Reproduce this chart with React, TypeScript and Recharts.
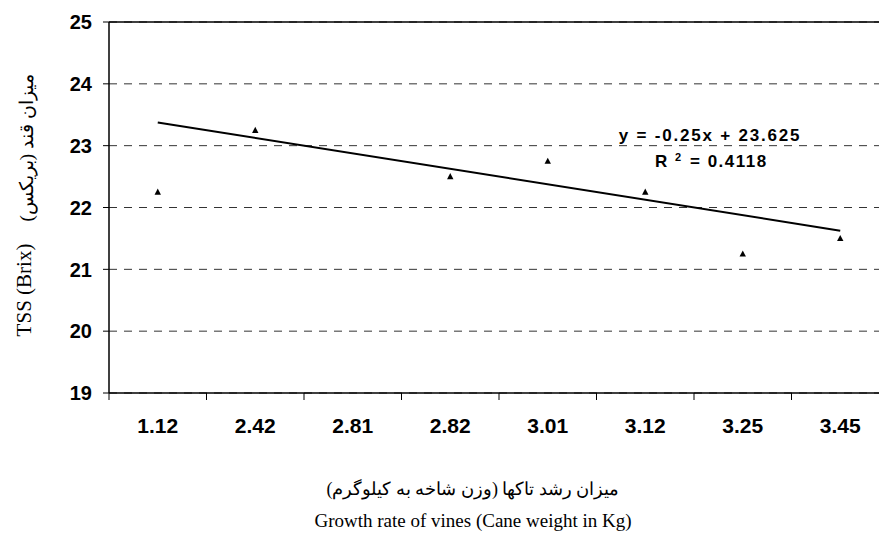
import React from "react";
import {
  ComposedChart,
  Line,
  XAxis,
  YAxis,
  CartesianGrid,
  ReferenceLine,
} from "recharts";

// cane weight categories (kg) and TSS readings (Brix)
const caneWeights = ["1.12", "2.42", "2.81", "2.82", "3.01", "3.12", "3.25", "3.45"];
const tssValues = [22.25, 23.25, null, 22.5, 22.75, 22.25, 21.25, 21.5];
// linear trend line end points (y = -0.25x + 23.625)
const trendValues = [23.375, null, null, null, null, null, null, 21.625];
const yTicks = [19, 20, 21, 22, 23, 24, 25];

const chartData = caneWeights.map((w, i) => ({
  name: w,
  tss: tssValues[i],
  trend: trendValues[i],
}));

const SANS = "'Liberation Sans', Arial, sans-serif";
const SERIF = "'Liberation Serif', 'Times New Roman', serif";

const TriangleDot = (props: any) => {
  const { cx, cy, index } = props;
  if (cx == null || cy == null || isNaN(cy)) return <g key={`d-${index}`} />;
  return (
    <polygon
      key={`d-${index}`}
      points={`${cx},${cy - 3.5} ${cx - 3.2},${cy + 2.7} ${cx + 3.2},${cy + 2.7}`}
      fill="#000"
    />
  );
};

// category ticks sit between bands, like the original spreadsheet chart
const XTick = (props: any) => {
  const { x, y, payload, width, visibleTicksCount } = props;
  const off =
    payload && payload.offset
      ? payload.offset
      : width / ((visibleTicksCount || 8) * 2);
  return (
    <g>
      <line x1={x - off} x2={x - off} y1={y - 25} y2={y - 18} stroke="#000" strokeWidth={1} />
      <text
        x={x}
        y={y}
        dy="0.71em"
        textAnchor="middle"
        fontFamily={SANS}
        fontWeight="bold"
        fontSize={21}
        fill="#000"
      >
        {payload.value}
      </text>
    </g>
  );
};

const YTick = (props: any) => {
  const { x, y, payload } = props;
  return (
    <text
      x={x}
      y={y}
      dy="0.36em"
      textAnchor="end"
      fontFamily={SANS}
      fontWeight="bold"
      fontSize={20}
      fill="#000"
    >
      {payload.value}
    </text>
  );
};

export default function App() {
  return (
    <div
      style={{
        position: "absolute",
        left: 0,
        top: 0,
        width: 879,
        height: 541,
        overflow: "hidden",
        background: "#fff",
      }}
    >
      <ComposedChart
        width={900}
        height={541}
        data={chartData}
        margin={{ top: 22, right: 11, bottom: 0, left: 0 }}
      >
        <CartesianGrid vertical={false} stroke="#333" strokeDasharray="8 7" />
        <XAxis
          dataKey="name"
          scale="band"
          height={148}
          tickSize={7}
          tickMargin={18}
          tickLine={false}
          axisLine={{ stroke: "#000", strokeWidth: 1.5 }}
          tick={<XTick />}
          interval={0}
        />
        <YAxis
          width={109}
          domain={[19, 25]}
          ticks={yTicks}
          tickSize={6}
          tickMargin={11}
          axisLine={{ stroke: "#000", strokeWidth: 1.5 }}
          tickLine={{ stroke: "#000" }}
          tick={<YTick />}
        />
        <ReferenceLine y={25} stroke="#000" strokeWidth={1.5} />
        <Line
          dataKey="trend"
          stroke="#000"
          strokeWidth={2}
          dot={false}
          activeDot={false}
          connectNulls
          isAnimationActive={false}
        />
        <Line
          dataKey="tss"
          stroke="none"
          dot={<TriangleDot />}
          activeDot={false}
          isAnimationActive={false}
        />
      </ComposedChart>

      <svg
        width={879}
        height={541}
        style={{ position: "absolute", left: 0, top: 0, pointerEvents: "none" }}
      >
        {/* trend line equation */}
        <text
          x={710}
          y={141}
          textAnchor="middle"
          fontFamily={SANS}
          fontWeight="bold"
          fontSize={17}
          letterSpacing={1.8}
          fill="#000"
        >
          y = -0.25x + 23.625
        </text>
        <text x={655} y={167} fontFamily={SANS} fontWeight="bold" fontSize={17} fill="#000">
          R
        </text>
        <text x={675} y={161} fontFamily={SANS} fontWeight="bold" fontSize={11} fill="#000">
          2
        </text>
        <text x={690} y={167} fontFamily={SANS} fontWeight="bold" fontSize={17} letterSpacing={1.5} fill="#000">
          = 0.4118
        </text>

        {/* y axis title */}
        <text
          transform="translate(31,290) rotate(-90)"
          textAnchor="middle"
          fontFamily={SERIF}
          fontSize={21}
          fill="#000"
        >
          TSS (Brix)
        </text>
        <text
          transform="translate(33,148) rotate(-90)"
          textAnchor="middle"
          direction="rtl"
          fontFamily={SERIF}
          fontSize={19}
          fill="#000"
        >
          میزان قند (بریکس)
        </text>

        {/* x axis title */}
        <text
          x={473}
          y={495}
          textAnchor="middle"
          direction="rtl"
          fontFamily={SERIF}
          fontSize={18}
          fill="#000"
        >
          میزان رشد تاکها (وزن شاخه به کیلوگرم)
        </text>
        <text x={473} y={527} textAnchor="middle" fontFamily={SERIF} fontSize={19} fill="#000">
          Growth rate of vines (Cane weight in Kg)
        </text>
      </svg>
    </div>
  );
}
